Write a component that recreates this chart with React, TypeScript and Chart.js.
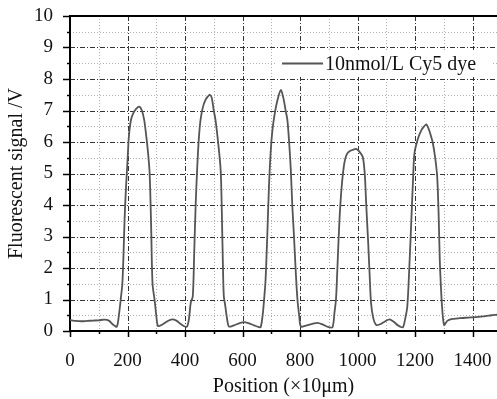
import React, { useEffect, useRef } from "react";
import { Chart, registerables } from "chart.js";

Chart.register(...registerables);

const positions = [
  0, 20, 40, 60, 80, 100, 120, 135, 150, 163, 170, 177, 182, 186, 190, 195, 200, 205, 212, 221, 230, 241, 250, 258, 265, 272, 277, 282, 287, 294, 300, 306,
  320, 340, 355, 370, 385, 397, 407, 414, 420, 427, 432, 437, 442, 448, 454, 462, 472, 480, 486, 493, 500, 506, 515, 524, 528, 532, 535, 540, 546, 553,
  570, 590, 605, 620, 640, 655, 663, 670, 675, 680, 686, 692, 698, 704, 712, 722, 733, 742, 750, 756, 762, 768, 773, 779, 785, 791, 797, 803,
  820, 840, 861, 880, 900, 913, 920, 925, 930, 937, 945, 954, 962, 971, 983, 995, 1006, 1018, 1025, 1030, 1037, 1042, 1047, 1055, 1065,
  1080, 1095, 1111, 1125, 1140, 1150, 1158, 1166, 1173, 1180, 1187, 1193, 1198, 1210, 1222, 1232, 1239, 1248, 1255, 1262, 1270, 1277, 1282, 1286, 1290, 1294, 1301,
  1312, 1326, 1350, 1375, 1396, 1420, 1445, 1465, 1485,
];

const signal = [
  0.35, 0.32, 0.31, 0.32, 0.33, 0.34, 0.36, 0.33, 0.2, 0.14, 0.5, 1.05, 1.5, 2.4, 3.6, 4.6, 5.4, 6.2, 6.7, 6.93, 7.05, 7.12, 7.0, 6.7, 6.2, 5.6, 5.0, 3.4, 1.5, 1.0, 0.5, 0.16,
  0.2, 0.32, 0.37, 0.33, 0.22, 0.15, 0.14, 0.4, 0.9, 1.1, 2.5, 4.0, 5.1, 6.1, 6.7, 7.1, 7.35, 7.45, 7.5, 7.4, 7.0, 6.7, 6.0, 5.1, 3.8, 2.0, 1.1, 0.8, 0.4, 0.14,
  0.18, 0.25, 0.28, 0.25, 0.18, 0.13, 0.12, 0.5, 1.0, 1.6, 3.0, 4.6, 5.7, 6.38, 6.9, 7.35, 7.65, 7.4, 7.0, 6.7, 6.0, 5.1, 4.0, 3.0, 1.9, 1.0, 0.5, 0.14,
  0.17, 0.22, 0.26, 0.2, 0.12, 0.12, 0.6, 1.0, 2.0, 3.5, 4.6, 5.33, 5.6, 5.7, 5.75, 5.78, 5.7, 5.53, 5.0, 4.05, 2.8, 1.8, 0.88, 0.4, 0.19,
  0.22, 0.3, 0.37, 0.3, 0.18, 0.13, 0.12, 0.4, 0.77, 2.0, 3.5, 4.8, 5.65, 6.1, 6.38, 6.5, 6.56, 6.4, 6.2, 5.96, 5.5, 4.9, 3.7, 2.25, 1.4, 0.77, 0.19,
  0.32, 0.38, 0.4, 0.42, 0.43, 0.45, 0.47, 0.5, 0.52,
];

const seriesLabel = "10nmol/L Cy5 dye";
const xTitle = "Position (×10μm)";
const yTitle = "Fluorescent signal /V";
const xMin = 0;
const xMax = 1485;
const yMin = 0;
const yMax = 10;

const FONT = "'Liberation Serif', 'Times New Roman', serif";

const decorPlugin = {
  id: "decor",
  beforeDatasetsDraw(chart: any) {
    const { ctx, chartArea: a, scales } = chart;
    const xs = scales.x;
    const ys = scales.y;
    ctx.save();
    ctx.strokeStyle = "#b0b0b0";
    ctx.lineWidth = 1;
    ctx.setLineDash([1, 2]);
    for (let v = 100; v < xMax; v += 200) {
      const px = Math.round(xs.getPixelForValue(v)) + 0.5;
      ctx.beginPath(); ctx.moveTo(px, a.top); ctx.lineTo(px, a.bottom); ctx.stroke();
    }
    for (let v = 0.5; v < yMax; v += 1) {
      const py = Math.round(ys.getPixelForValue(v)) + 0.5;
      ctx.beginPath(); ctx.moveTo(a.left, py); ctx.lineTo(a.right, py); ctx.stroke();
    }
    ctx.strokeStyle = "#333";
    ctx.setLineDash([5, 2, 1, 2]);
    for (let v = 200; v < xMax; v += 200) {
      const px = Math.round(xs.getPixelForValue(v)) + 0.5;
      ctx.beginPath(); ctx.moveTo(px, a.top); ctx.lineTo(px, a.bottom); ctx.stroke();
    }
    for (let v = 1; v < yMax; v += 1) {
      const py = Math.round(ys.getPixelForValue(v)) + 0.5;
      ctx.beginPath(); ctx.moveTo(a.left, py); ctx.lineTo(a.right, py); ctx.stroke();
    }
    ctx.setLineDash([]);
    ctx.strokeStyle = "#000";
    ctx.lineWidth = 2;
    const x0 = xs.getPixelForValue(xMin);
    const y0 = ys.getPixelForValue(yMin);
    const yTop = ys.getPixelForValue(yMax);
    ctx.beginPath(); ctx.moveTo(x0, yTop); ctx.lineTo(x0, y0 + 1); ctx.stroke();
    ctx.beginPath(); ctx.moveTo(x0 - 1, y0); ctx.lineTo(a.right, y0); ctx.stroke();
    ctx.beginPath(); ctx.moveTo(x0 - 1, yTop); ctx.lineTo(a.right, yTop); ctx.stroke();
    ctx.lineWidth = 1.5;
    for (let v = 0; v <= yMax + 1e-9; v += 0.5) {
      const py = Math.round(ys.getPixelForValue(v)) + 0.5;
      const major = Math.abs(v - Math.round(v)) < 1e-6;
      ctx.beginPath(); ctx.moveTo(x0 - (major ? 7 : 3), py); ctx.lineTo(x0, py); ctx.stroke();
    }
    for (let v = 0; v < xMax; v += 100) {
      const px = Math.round(xs.getPixelForValue(v)) + 0.5;
      const major = v % 200 === 0;
      ctx.beginPath(); ctx.moveTo(px, y0); ctx.lineTo(px, y0 + (major ? 6 : 3)); ctx.stroke();
    }
    ctx.restore();
  },
  afterDatasetsDraw(chart: any) {
    const { ctx, chartArea: a } = chart;
    ctx.save();
    const bx = a.left + 207;
    const by = a.top + 34;
    ctx.fillStyle = "#fff";
    ctx.fillRect(bx, by, 215, 27);
    const ly = by + 13.5;
    ctx.strokeStyle = "#555";
    ctx.lineWidth = 2;
    ctx.beginPath(); ctx.moveTo(bx + 5, ly); ctx.lineTo(bx + 46, ly); ctx.stroke();
    ctx.fillStyle = "#111";
    ctx.font = `20px ${FONT}`;
    ctx.textBaseline = "middle";
    ctx.textAlign = "left";
    ctx.fillText(seriesLabel, bx + 48, ly + 1);
    ctx.restore();
  },
};

export default function App() {
  const ref = useRef<HTMLCanvasElement | null>(null);
  useEffect(() => {
    document.body.style.margin = "0";
    const canvas = ref.current;
    if (!canvas) return;
    const chart = new Chart(canvas, {
      type: "line",
      data: {
        datasets: [
          {
            label: seriesLabel,
            data: positions.map((p, i) => ({ x: p, y: signal[i] })),
            borderColor: "#555",
            borderWidth: 1.8,
            pointRadius: 0,
            tension: 0.3,
            fill: false,
          },
        ],
      },
      options: {
        responsive: false,
        animation: false,
        devicePixelRatio: 1,
        layout: { padding: { top: 16, right: 0, left: 0, bottom: 0 } },
        plugins: { legend: { display: false }, tooltip: { enabled: false } },
        scales: {
          x: {
            type: "linear",
            min: xMin,
            max: xMax,
            grid: { display: false },
            border: { display: false },
            ticks: {
              stepSize: 200,
              includeBounds: false,
              autoSkip: false,
              maxRotation: 0,
              padding: 11,
              color: "#111",
              font: { family: FONT, size: 19 },
              callback: (v: any) => String(v),
            },
            title: {
              display: true,
              text: xTitle,
              color: "#111",
              font: { family: FONT, size: 20 },
              padding: { top: 0, bottom: 0 },
            },
            afterFit: (s: any) => {
              s.height = 68;
              s.paddingLeft = 0;
              s.paddingRight = 0;
            },
          },
          y: {
            min: yMin,
            max: yMax,
            grid: { display: false },
            border: { display: false },
            ticks: {
              stepSize: 1,
              padding: 9,
              color: "#111",
              font: { family: FONT, size: 19 },
            },
            title: {
              display: true,
              text: yTitle,
              color: "#111",
              font: { family: FONT, size: 20 },
              padding: { top: 5, bottom: 0 },
            },
            afterFit: (s: any) => {
              s.width = 70;
              s.paddingTop = 0;
              s.paddingBottom = 0;
            },
          },
        },
      },
      plugins: [decorPlugin],
    });
    return () => chart.destroy();
  }, []);
  return (
    <div style={{ position: "absolute", left: 0, top: 0, width: 497, height: 399, background: "#fff" }}>
      <canvas ref={ref} width={497} height={399} style={{ display: "block" }} />
    </div>
  );
}
